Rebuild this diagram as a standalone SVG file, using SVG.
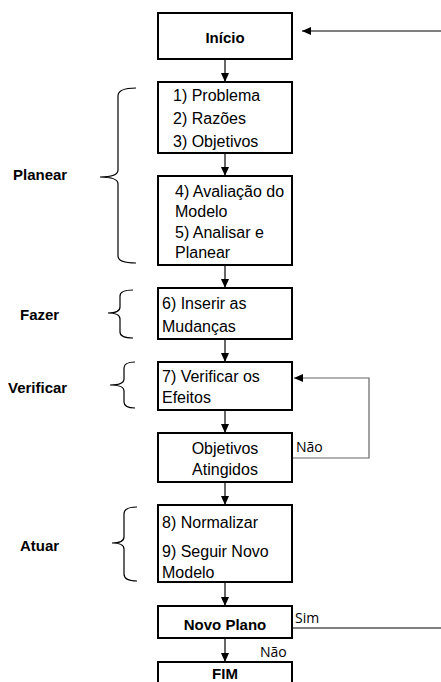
<svg xmlns="http://www.w3.org/2000/svg" width="441" height="682" viewBox="0 0 441 682">
  <style>
    .box { fill: #fff; stroke: #000; stroke-width: 2; }
    .t { font-family: "Liberation Sans", Arial, sans-serif; font-size: 16px; fill: #000; }
    .b { font-family: "Liberation Sans", Arial, sans-serif; font-size: 15px; font-weight: bold; fill: #000; }
    .c { text-anchor: middle; }
    .lbl { font-family: "Open Sans", "DejaVu Sans", sans-serif; font-size: 14px; fill: #000; }
    .edge { fill: none; stroke: #000; stroke-width: 1.2; }
    .brace { fill: none; stroke: #000; stroke-width: 1.2; }
  </style>
  <defs>
    <marker id="ah" markerWidth="10" markerHeight="10" refX="9" refY="5" orient="auto" markerUnits="userSpaceOnUse">
      <path d="M0,1 L9,5 L0,9 Z" fill="#000"/>
    </marker>
  </defs>

  <rect width="441" height="682" fill="#fff"/>

  <!-- connectors -->
  <g id="connectors">
    <line class="edge" x1="225" y1="59" x2="225" y2="82" marker-end="url(#ah)"/>
    <line class="edge" x1="225" y1="153" x2="225" y2="176" marker-end="url(#ah)"/>
    <line class="edge" x1="225" y1="265" x2="225" y2="288" marker-end="url(#ah)"/>
    <line class="edge" x1="225" y1="339" x2="225" y2="362" marker-end="url(#ah)"/>
    <line class="edge" x1="225" y1="410" x2="225" y2="433" marker-end="url(#ah)"/>
    <line class="edge" x1="225" y1="482" x2="225" y2="505" marker-end="url(#ah)"/>
    <line class="edge" x1="225" y1="582" x2="225" y2="606" marker-end="url(#ah)"/>
    <line class="edge" x1="225" y1="638" x2="225" y2="662" marker-end="url(#ah)"/>
    <!-- return path into Início -->
    <line class="edge" x1="441" y1="31" x2="302" y2="31" marker-end="url(#ah)"/>
    <!-- Sim branch leaving to the right -->
    <line class="edge" x1="292" y1="628" x2="441" y2="628"/>
    <!-- Não loop back to step 7 -->
    <path d="M292,458 H369 V378 H294" fill="none" stroke="#666" stroke-width="1.2" marker-end="url(#ah)"/>
    <text class="lbl" x="296" y="452">Não</text>
    <text class="lbl" x="295" y="623">Sim</text>
    <text class="lbl" x="260" y="657">Não</text>
  </g>

  <!-- phase braces and labels -->
  <g id="phase-planear">
    <path class="brace" d="M136,88 Q118,88 118,96 L118,170 Q118,177 100,177 Q118,177 118,184 L118,256 Q118,263 136,263"/>
    <text class="b" x="13" y="180">Planear</text>
  </g>
  <g id="phase-fazer">
    <path class="brace" d="M133,290 Q120,290 120,296 L120,307 Q120,313 108,313 Q120,313 120,319 L120,332 Q120,338 133,338"/>
    <text class="b" x="20" y="320">Fazer</text>
  </g>
  <g id="phase-verificar">
    <path class="brace" d="M135,362 Q124,362 124,368 L124,379 Q124,385 110,385 Q124,385 124,391 L124,402 Q124,408 135,408"/>
    <text class="b" x="8" y="393">Verificar</text>
  </g>
  <g id="phase-atuar">
    <path class="brace" d="M137,507 Q124,507 124,514 L124,537 Q124,543 112,543 Q124,543 124,549 L124,574 Q124,581 137,581"/>
    <text class="b" x="20" y="551">Atuar</text>
  </g>

  <!-- process nodes -->
  <g id="inicio">
    <rect class="box" x="158" y="13" width="134" height="46"/>
    <text class="b c" x="225" y="43">Início</text>
  </g>
  <g id="passos-1-3">
    <rect class="box" x="158" y="82" width="134" height="71"/>
    <text class="t" x="173" y="101">1) Problema</text>
    <text class="t" x="173" y="124">2) Razões</text>
    <text class="t" x="173" y="147">3) Objetivos</text>
  </g>
  <g id="passos-4-5">
    <rect class="box" x="158" y="176" width="134" height="89"/>
    <text class="t" x="175" y="197">4) Avaliação do</text>
    <text class="t" x="175" y="217">Modelo</text>
    <text class="t" x="175" y="238">5) Analisar e</text>
    <text class="t" x="175" y="258">Planear</text>
  </g>
  <g id="passo-6">
    <rect class="box" x="158" y="288" width="134" height="51"/>
    <text class="t" x="162" y="309">6) Inserir as</text>
    <text class="t" x="162" y="332">Mudanças</text>
  </g>
  <g id="passo-7">
    <rect class="box" x="158" y="362" width="134" height="48"/>
    <text class="t" x="162" y="382">7) Verificar os</text>
    <text class="t" x="162" y="403">Efeitos</text>
  </g>
  <g id="objetivos-atingidos">
    <rect class="box" x="158" y="433" width="134" height="49"/>
    <text class="t c" x="225" y="454">Objetivos</text>
    <text class="t c" x="225" y="475">Atingidos</text>
  </g>
  <g id="passos-8-9">
    <rect class="box" x="158" y="505" width="134" height="77"/>
    <text class="t" x="162" y="528">8) Normalizar</text>
    <text class="t" x="162" y="557">9) Seguir Novo</text>
    <text class="t" x="162" y="578">Modelo</text>
  </g>
  <g id="novo-plano">
    <rect class="box" x="158" y="606" width="134" height="32"/>
    <text class="b c" x="225" y="630">Novo Plano</text>
  </g>
  <g id="fim">
    <rect class="box" x="158" y="662" width="134" height="30"/>
    <text class="b c" x="225" y="679">FIM</text>
  </g>
</svg>
